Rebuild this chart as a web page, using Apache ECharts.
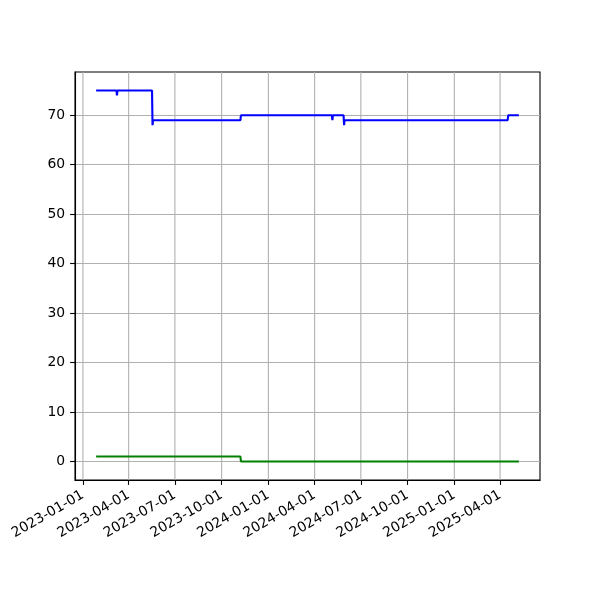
<!DOCTYPE html>
<html><head><meta charset="utf-8">
<script src="https://cdn.jsdelivr.net/npm/echarts@6/dist/echarts.min.js"></script>
<style>html,body{margin:0;padding:0;background:#fff}#c{width:600px;height:600px}</style>
</head><body><div id="c"></div>
<script>
var blueDates = ['2023-01-27','2023-03-08','2023-03-09','2023-03-10','2023-05-17','2023-05-18','2023-05-19','2023-11-07','2023-11-08','2024-05-05','2024-05-06','2024-05-07','2024-05-28','2024-05-29','2024-05-30','2025-04-16','2025-04-17','2025-05-08'];
var blueValues = [75,75,74,75,75,68,69,69,70,70,69,70,70,68,69,69,70,70];
var greenDates = ['2023-01-27','2023-11-07','2023-11-08','2025-05-08'];
var greenValues = [1,1,0,0];
var xTickLabels = ['2023-01-01','2023-04-01','2023-07-01','2023-10-01','2024-01-01','2024-04-01','2024-07-01','2024-10-01','2025-01-01','2025-04-01'];
var yTicks = [0,10,20,30,40,50,60,70];

function ts(s){ return +echarts.time.parse(s); }
var allX = blueDates.concat(greenDates).map(ts);
var allY = blueValues.concat(greenValues);
var x0 = Math.min.apply(null, allX), x1 = Math.max.apply(null, allX);
var y0 = Math.min.apply(null, allY), y1 = Math.max.apply(null, allY);
var xm = (x1 - x0) * 0.05, ym = (y1 - y0) * 0.05;
var xTickVals = xTickLabels.map(ts);
var labelMap = {};
xTickLabels.forEach(function(l, i){ labelMap[xTickVals[i]] = l; });

function pairs(d, v){ return d.map(function(s, i){ return [ts(s), v[i]]; }); }

var chart = echarts.init(document.getElementById('c'), null, {renderer: 'canvas'});
var font = 'DejaVu Sans';
var gridStyle = {color: '#b0b0b0', width: 1.1, type: 'solid'};
chart.setOption({
  animation: false,
  grid: {left: 75, right: 60, top: 72, bottom: 120, show: true, borderColor: '#000', borderWidth: 1.1},
  xAxis: {
    type: 'value', min: x0 - xm, max: x1 + xm, scale: true,
    axisLine: {show: true, onZero: false, lineStyle: {color: '#000', width: 1.1}},
    axisTick: {show: true, customValues: xTickVals, length: 4.9, lineStyle: {color: '#000', width: 1.1}},
    axisLabel: {customValues: xTickVals, rotate: 30, margin: 14, color: '#000', fontFamily: font, fontSize: 13.9,
      formatter: function(v){ return labelMap[v] || ''; }},
    splitLine: {show: false}
  },
  yAxis: {
    type: 'value', min: y0 - ym, max: y1 + ym,
    axisLine: {show: true, onZero: false, lineStyle: {color: '#000', width: 1.1}},
    axisTick: {show: true, customValues: yTicks, length: 4.9, lineStyle: {color: '#000', width: 1.1}},
    axisLabel: {customValues: yTicks, margin: 9.8, color: '#000', fontFamily: font, fontSize: 13.9},
    splitLine: {show: true, showMinLine: true, showMaxLine: true, lineStyle: gridStyle}
  },
  series: [
    {type: 'line', z: 5, data: pairs(blueDates, blueValues), showSymbol: false, lineStyle: {color: '#0000ff', width: 2.1}, itemStyle: {color: '#0000ff'}},
    {type: 'line', z: 5, data: pairs(greenDates, greenValues), showSymbol: false, lineStyle: {color: '#008000', width: 2.1}, itemStyle: {color: '#008000'}}
  ]
});
// vertical grid lines positioned through the chart's own x/y scales
var gridEls = xTickVals.map(function(v){
  var pTop = chart.convertToPixel({gridIndex: 0}, [v, y1 + ym]);
  var pBot = chart.convertToPixel({gridIndex: 0}, [v, y0 - ym]);
  return {type: 'line', z: 4, silent: true,
    shape: {x1: pTop[0], y1: pTop[1], x2: pBot[0], y2: pBot[1]},
    style: {stroke: '#b0b0b0', lineWidth: 1.1}};
});
chart.setOption({graphic: {elements: gridEls}});
</script></body></html>
